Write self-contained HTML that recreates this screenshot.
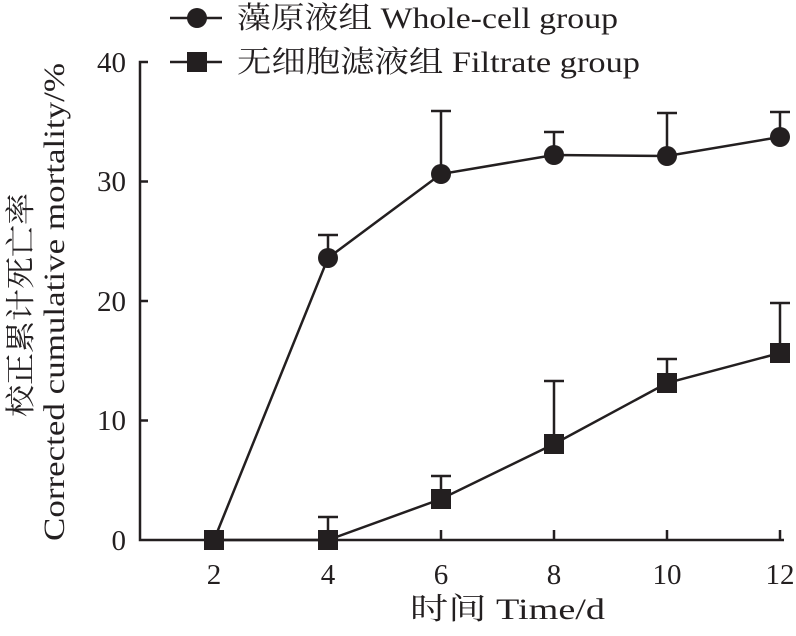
<!DOCTYPE html>
<html><head><meta charset="utf-8"><style>html,body{margin:0;padding:0;background:#fff}</style></head>
<body>
<svg width="796" height="631" viewBox="0 0 796 631" xmlns="http://www.w3.org/2000/svg" font-family="'Liberation Serif','Noto Serif CJK SC',serif" fill="#231f20">
<g stroke="#231f20" stroke-width="2.5" fill="none">
<path d="M148 62H140V540H784"/>
<path d="M140 181.5H148M140 301H148M140 420.5H148"/>
<path d="M214 540V530M328 540V530M441 540V530M554 540V530M667 540V530M780 540V530"/>
<path d="M328 258V235M318 235H338M441 174V111M431 111H451M554 155V132M544 132H564M667 156V113M657 113H677M780 137V112M770 112H790"/>
<path d="M328 540V517M318 517H338M441 499V476M431 476H451M554 444V381M544 381H564M667 383V359M657 359H677M780 353V303M770 303H790"/>
<polyline points="214,540 328,258 441,174 554,155 667,156 780,137"/>
<polyline points="214,540 328,540 441,499 554,444 667,383 780,353"/>
<path d="M170 18H222M170 62H222"/>
</g>
<g>
<circle cx="328" cy="258" r="10"/><circle cx="441" cy="174" r="10"/><circle cx="554" cy="155" r="10"/><circle cx="667" cy="156" r="10"/><circle cx="780" cy="137" r="10"/>
<rect x="204" y="530" width="20" height="20"/><rect x="318" y="530" width="20" height="20"/><rect x="431" y="489" width="20" height="20"/><rect x="544" y="434" width="20" height="20"/><rect x="657" y="373" width="20" height="20"/><rect x="770" y="343" width="20" height="20"/>
<circle cx="197" cy="18" r="10"/><rect x="187" y="52" width="20" height="20"/>
</g>
<g font-size="30">
<text x="237" y="28" textLength="381" lengthAdjust="spacingAndGlyphs">藻原液组 Whole-cell group</text>
<text x="237" y="72" textLength="403" lengthAdjust="spacingAndGlyphs">无细胞滤液组 Filtrate group</text>
<g text-anchor="end" font-size="29">
<text x="126" y="72">40</text><text x="126" y="191">30</text><text x="126" y="311">20</text><text x="126" y="430">10</text><text x="126" y="550">0</text>
</g>
<g text-anchor="middle" font-size="29">
<text x="214" y="584">2</text><text x="328" y="584">4</text><text x="441" y="584">6</text><text x="554" y="584">8</text><text x="667" y="584">10</text><text x="780" y="584">12</text>
</g>
<text x="410" y="619" textLength="195" lengthAdjust="spacingAndGlyphs">时间 Time/d</text>
<text transform="translate(31,417) rotate(-90)" textLength="224" lengthAdjust="spacingAndGlyphs">校正累计死亡率</text>
<text transform="translate(64,541) rotate(-90)" textLength="478" lengthAdjust="spacingAndGlyphs">Corrected cumulative mortality/%</text>
</g>
</svg>
</body></html>
